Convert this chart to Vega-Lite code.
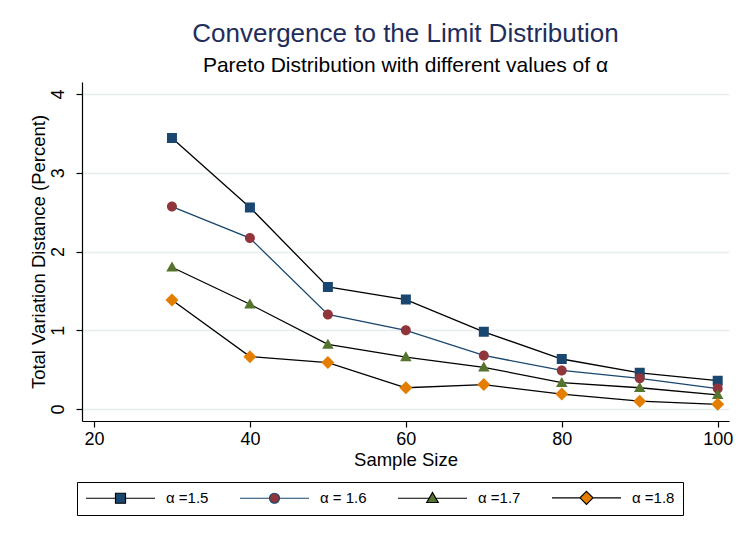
{
  "$schema": "https://vega.github.io/schema/vega-lite/v6.json",
  "width": 647,
  "height": 339,
  "autosize": {"type": "none"},
  "padding": {"left": 82, "top": 82, "right": 9, "bottom": 119},
  "background": "white",
  "config": {
    "font": "Liberation Sans",
    "view": {"stroke": null},
    "axis": {
      "domainColor": "#000000",
      "domainWidth": 1.2,
      "tickColor": "#000000",
      "tickWidth": 1.2,
      "tickSize": 6,
      "labelFontSize": 18,
      "labelColor": "#000000",
      "titleFontSize": 18.5,
      "titleFontWeight": "normal",
      "titleColor": "#000000"
    },
    "legend": {
      "orient": "none",
      "legendX": -5,
      "legendY": 400,
      "direction": "horizontal",
      "columns": 4,
      "symbolSize": 100,
      "symbolStrokeWidth": 1.2,
      "symbolOffset": 28,
      "labelOffset": 38,
      "labelFontSize": 15,
      "labelColor": "#000000",
      "columnPadding": 28,
      "strokeColor": "#000000",
      "padding": 8
    }
  },
  "title": {
    "text": "Convergence to the Limit Distribution",
    "subtitle": "Pareto Distribution with different values of α",
    "fontSize": 26,
    "fontWeight": "normal",
    "color": "#1f2d5a",
    "subtitleFontSize": 21,
    "subtitleColor": "#000000",
    "anchor": "middle",
    "offset": 6,
    "subtitlePadding": 8
  },
  "data": {
    "values": [
      {"n": 30, "alpha": "α =1.5", "tvd": 3.44},
      {"n": 40, "alpha": "α =1.5", "tvd": 2.56},
      {"n": 50, "alpha": "α =1.5", "tvd": 1.55},
      {"n": 60, "alpha": "α =1.5", "tvd": 1.39},
      {"n": 70, "alpha": "α =1.5", "tvd": 0.98},
      {"n": 80, "alpha": "α =1.5", "tvd": 0.635},
      {"n": 90, "alpha": "α =1.5", "tvd": 0.46},
      {"n": 100, "alpha": "α =1.5", "tvd": 0.36},
      {"n": 30, "alpha": "α = 1.6", "tvd": 2.57},
      {"n": 40, "alpha": "α = 1.6", "tvd": 2.17},
      {"n": 50, "alpha": "α = 1.6", "tvd": 1.2},
      {"n": 60, "alpha": "α = 1.6", "tvd": 1.0},
      {"n": 70, "alpha": "α = 1.6", "tvd": 0.68},
      {"n": 80, "alpha": "α = 1.6", "tvd": 0.49},
      {"n": 90, "alpha": "α = 1.6", "tvd": 0.39},
      {"n": 100, "alpha": "α = 1.6", "tvd": 0.26},
      {"n": 30, "alpha": "α =1.7", "tvd": 1.8},
      {"n": 40, "alpha": "α =1.7", "tvd": 1.33},
      {"n": 50, "alpha": "α =1.7", "tvd": 0.82},
      {"n": 60, "alpha": "α =1.7", "tvd": 0.66},
      {"n": 70, "alpha": "α =1.7", "tvd": 0.53},
      {"n": 80, "alpha": "α =1.7", "tvd": 0.335},
      {"n": 90, "alpha": "α =1.7", "tvd": 0.27},
      {"n": 100, "alpha": "α =1.7", "tvd": 0.18},
      {"n": 30, "alpha": "α =1.8", "tvd": 1.385},
      {"n": 40, "alpha": "α =1.8", "tvd": 0.665},
      {"n": 50, "alpha": "α =1.8", "tvd": 0.59},
      {"n": 60, "alpha": "α =1.8", "tvd": 0.27},
      {"n": 70, "alpha": "α =1.8", "tvd": 0.31},
      {"n": 80, "alpha": "α =1.8", "tvd": 0.19},
      {"n": 90, "alpha": "α =1.8", "tvd": 0.1},
      {"n": 100, "alpha": "α =1.8", "tvd": 0.06}
    ]
  },
  "encoding": {
    "x": {
      "field": "n",
      "type": "quantitative",
      "scale": {"domain": [18.46, 101.45], "nice": false, "zero": false},
      "axis": {"values": [20, 40, 60, 80, 100], "title": "Sample Size", "grid": false, "labelPadding": 3, "titlePadding": 2}
    },
    "y": {
      "field": "tvd",
      "type": "quantitative",
      "scale": {"domain": [-0.152, 4.152], "nice": false, "zero": false},
      "axis": {
        "values": [0, 1, 2, 3, 4],
        "title": "Total Variation Distance (Percent)",
        "grid": true,
        "gridColor": "#e6eef0",
        "gridWidth": 1.3,
        "labelAngle": 270,
        "labelAlign": "center",
        "labelBaseline": "bottom",
        "labelPadding": 9,
        "titlePadding": 1
      }
    }
  },
  "layer": [
    {
      "mark": {"type": "line", "strokeWidth": 1.3},
      "encoding": {
        "stroke": {
          "field": "alpha",
          "type": "nominal",
          "scale": {"domain": ["α =1.5", "α = 1.6", "α =1.7", "α =1.8"], "range": ["#000000", "#1a476f", "#000000", "#000000"]},
          "legend": {"title": null}
        }
      }
    },
    {
      "mark": {"type": "point", "filled": true, "size": 100, "opacity": 1},
      "encoding": {
        "color": {
          "field": "alpha",
          "type": "nominal",
          "scale": {"domain": ["α =1.5", "α = 1.6", "α =1.7", "α =1.8"], "range": ["#1a476f", "#90353b", "#55752f", "#e37e00"]},
          "legend": {"title": null}
        },
        "shape": {
          "field": "alpha",
          "type": "nominal",
          "scale": {"domain": ["α =1.5", "α = 1.6", "α =1.7", "α =1.8"], "range": [
            "M-6.9,0H-1M1,0H6.9M-1,-1H1V1H-1Z",
            "M-6.9,0H-1M1,0H6.9M-1,0A1,1,0,1,0,1,0A1,1,0,1,0,-1,0Z",
            "M-6.9,0H-0.66M0.66,0H6.9M0,-1.15L1.15,0.85H-1.15Z",
            "M-6.9,0H-1.3M1.3,0H6.9M0,-1.3L1.3,0L0,1.3L-1.3,0Z"
          ]},
          "legend": {"title": null}
        }
      }
    }
  ]
}
